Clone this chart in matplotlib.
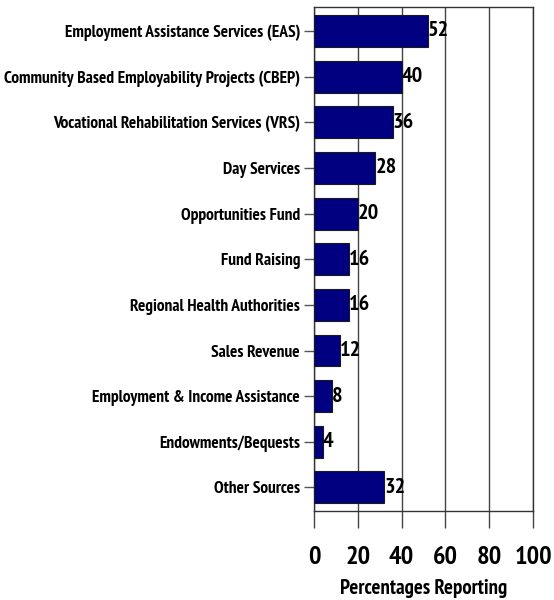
import numpy as np
import matplotlib
matplotlib.use("Agg")
import matplotlib.pyplot as plt

plt.rcParams['font.family'] = ['PT Sans Narrow', 'Archivo Narrow', 'Liberation Sans', 'DejaVu Sans']

sources = [
    "Employment Assistance Services (EAS)",
    "Community Based Employability Projects (CBEP)",
    "Vocational Rehabilitation Services (VRS)",
    "Day Services",
    "Opportunities Fund",
    "Fund Raising",
    "Regional Health Authorities",
    "Sales Revenue",
    "Employment & Income Assistance",
    "Endowments/Bequests",
    "Other Sources",
]
pct = [52, 40, 36, 28, 20, 16, 16, 12, 8, 4, 32]
xticks = [0, 20, 40, 60, 80, 100]

fig = plt.figure(figsize=(5.54, 6.0), dpi=100)
ax = fig.add_axes([0.5668, 0.148, 0.3953, 0.840])

y = np.arange(len(sources))
ax.barh(y, pct, height=0.7, color="#000080", edgecolor="#1a1a1a", linewidth=0.8, zorder=3)

for yi, v in zip(y, pct):
    ax.text(v, yi, str(v), va="center", ha="left", fontsize=16, fontweight="bold", zorder=4)

ax.set_xlim(0, 100)
ax.set_ylim(10.52, -0.52)
ax.set_yticks(y)
ax.set_yticklabels(sources, fontsize=12.5, fontweight="bold")
ax.set_xticks(xticks)
ax.set_xticklabels([str(t) for t in xticks], fontsize=19, fontweight="bold")

# vertical grid lines, carried below the frame by the tick marks
ax.grid(axis="x", color="#444444", linewidth=1.0, zorder=0)
ax.tick_params(axis="x", length=12, width=1.0, color="#444444", pad=13, direction="out")
ax.tick_params(axis="y", length=7, width=1.0, color="#555555", pad=3)

for s in ax.spines.values():
    s.set_color("#333333")
    s.set_linewidth(1.0)

ax.set_xlabel("Percentages Reporting", fontsize=15, fontweight="bold", labelpad=7)

fig.savefig("out.png", dpi=100)
